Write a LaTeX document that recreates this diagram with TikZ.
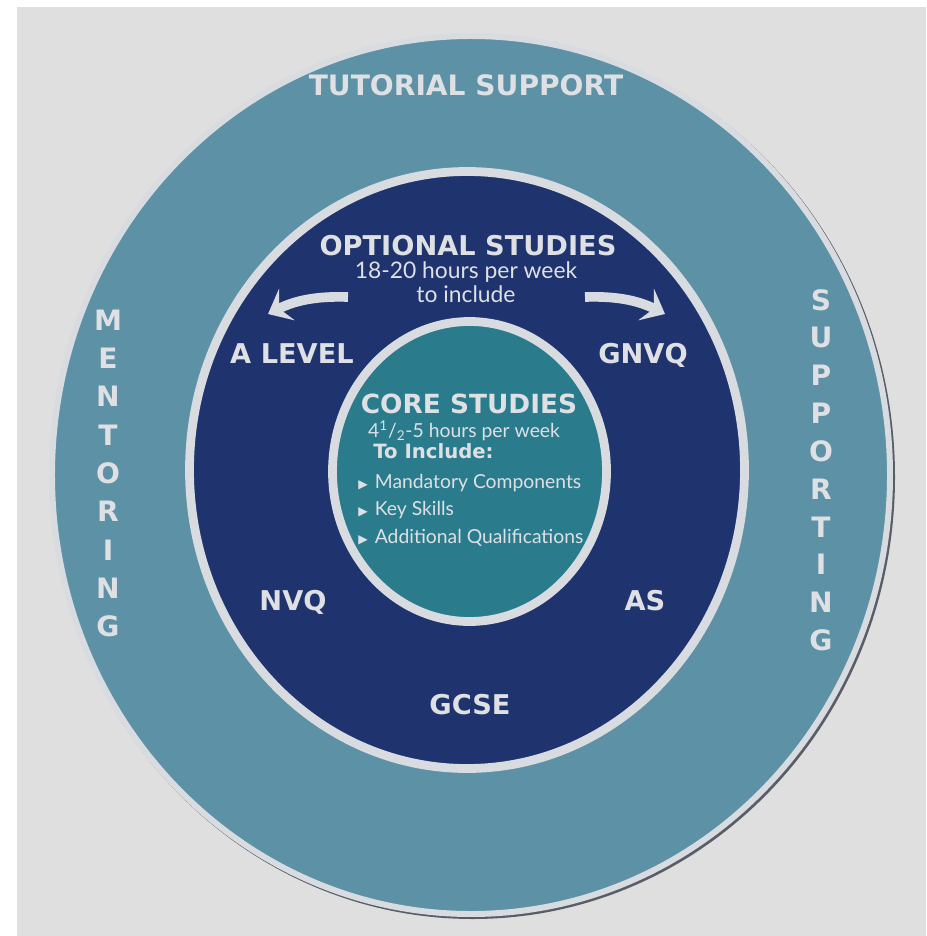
\documentclass[tikz,border=0pt]{standalone}
\usepackage{fontspec}
\setmainfont{Lato}
\newfontfamily\headfont{DejaVu Sans}
\usetikzlibrary{arrows.meta}
\definecolor{bggrey}{RGB}{223,223,223}
\definecolor{shadowgrey}{RGB}{88,94,104}
\definecolor{rimgrey}{RGB}{216,220,224}
\definecolor{outerteal}{RGB}{93,145,166}
\definecolor{navy}{RGB}{31,51,110}
\definecolor{innerteal}{RGB}{42,124,141}
\definecolor{txtgrey}{RGB}{222,224,228}
\tikzset{
  ringfill/.style={draw=rimgrey, line width=#1},
  bigword/.style={text=txtgrey, inner sep=0pt, anchor=base, font=\headfont\bfseries\fontsize{15.5}{18}\selectfont},
  sideletter/.style={text=txtgrey, inner sep=0pt, font=\headfont\bfseries\fontsize{16}{18}\selectfont},
  smalltxt/.style={text=txtgrey, inner sep=0pt, anchor=base, font=\fontsize{13}{15}\selectfont},
  itemtxt/.style={text=txtgrey, inner sep=0pt, anchor=base west, font=\fontsize{11}{14}\selectfont},
  fatarrow/.style={draw=rimgrey, line width=5.5pt, line cap=butt, -{Stealth[length=12pt,width=20pt,inset=5pt]}}
}
\newcommand\tri{{\headfont\fontsize{7}{10}\selectfont ▶}\hspace{4pt}}
\begin{document}
\begin{tikzpicture}[x=0.02cm, y=-0.02cm, line join=round]
 \useasboundingbox (0,0) rectangle (926,936);
 \fill[bggrey] (17,7) rectangle (926,936);
 % rings
 \fill[shadowgrey] (473,477) ellipse [x radius=422, y radius=442];
 \filldraw[fill=outerteal, ringfill=3.4pt] (471,475) ellipse [x radius=419, y radius=439];
 \filldraw[fill=navy, ringfill=5pt] (467,470) ellipse [x radius=277.5, y radius=298.5];
 \filldraw[fill=innerteal, ringfill=5pt] (469.5,471.5) ellipse [x radius=137, y radius=150];
 % outer ring words
 \node[bigword, font=\headfont\bfseries\fontsize{16}{18}\selectfont] (tutor) at (466,95) {TUTORIAL SUPPORT};
 \foreach \l [count=\i] in {M,E,N,T,O,R,I,N,G}
  \node[sideletter] (ment\i) at (108,{320+38.3*(\i-1)}) {\l};
 \foreach \l [count=\i] in {S,U,P,P,O,R,T,I,N,G}
  \node[sideletter] (supp\i) at (821,{300+37.8*(\i-1)}) {\l};
 % optional studies
 \node[bigword] (opt) at (468,255) {OPTIONAL STUDIES};
 \node[smalltxt] (opthrs) at (466,278) {18-20 hours per week};
 \node[smalltxt] (optinc) at (466,302) {to include};
 \node[bigword] (alevel) at (292,363) {A LEVEL};
 \node[bigword] (gnvq) at (643,363) {GNVQ};
 \node[bigword] (nvq) at (293,610) {NVQ};
 \node[bigword] (as) at (645,610) {AS};
 \node[bigword] (gcse) at (470,714) {GCSE};
 \coordinate (ltail) at (348,297);
 \coordinate (ltip) at (268,314);
 \coordinate (rtail) at (585,297);
 \coordinate (rtip) at (665,314);
 \draw[fatarrow] (ltail) .. controls (318,296) and (296,300) .. (ltip);
 \draw[fatarrow] (rtail) .. controls (615,296) and (637,300) .. (rtip);
 % core studies
 \node[bigword, font=\headfont\bfseries\fontsize{15}{18}\selectfont] (core) at (469,413) {CORE STUDIES};
 \node[smalltxt, font=\fontsize{11}{14}\selectfont] (corehrs) at (464,437) {4\textsuperscript{1}/\textsubscript{2}-5 hours per week};
 \node[itemtxt, font=\headfont\bfseries\fontsize{11.2}{14}\selectfont] (coreinc) at (373,458) {To Include:};
 \node[itemtxt] (item1) at (358,488) {\tri Mandatory Components};
 \node[itemtxt] (item2) at (358,515) {\tri Key Skills};
 \node[itemtxt] (item3) at (358,543) {\tri Additional Qualifications};
\end{tikzpicture}
\end{document}
